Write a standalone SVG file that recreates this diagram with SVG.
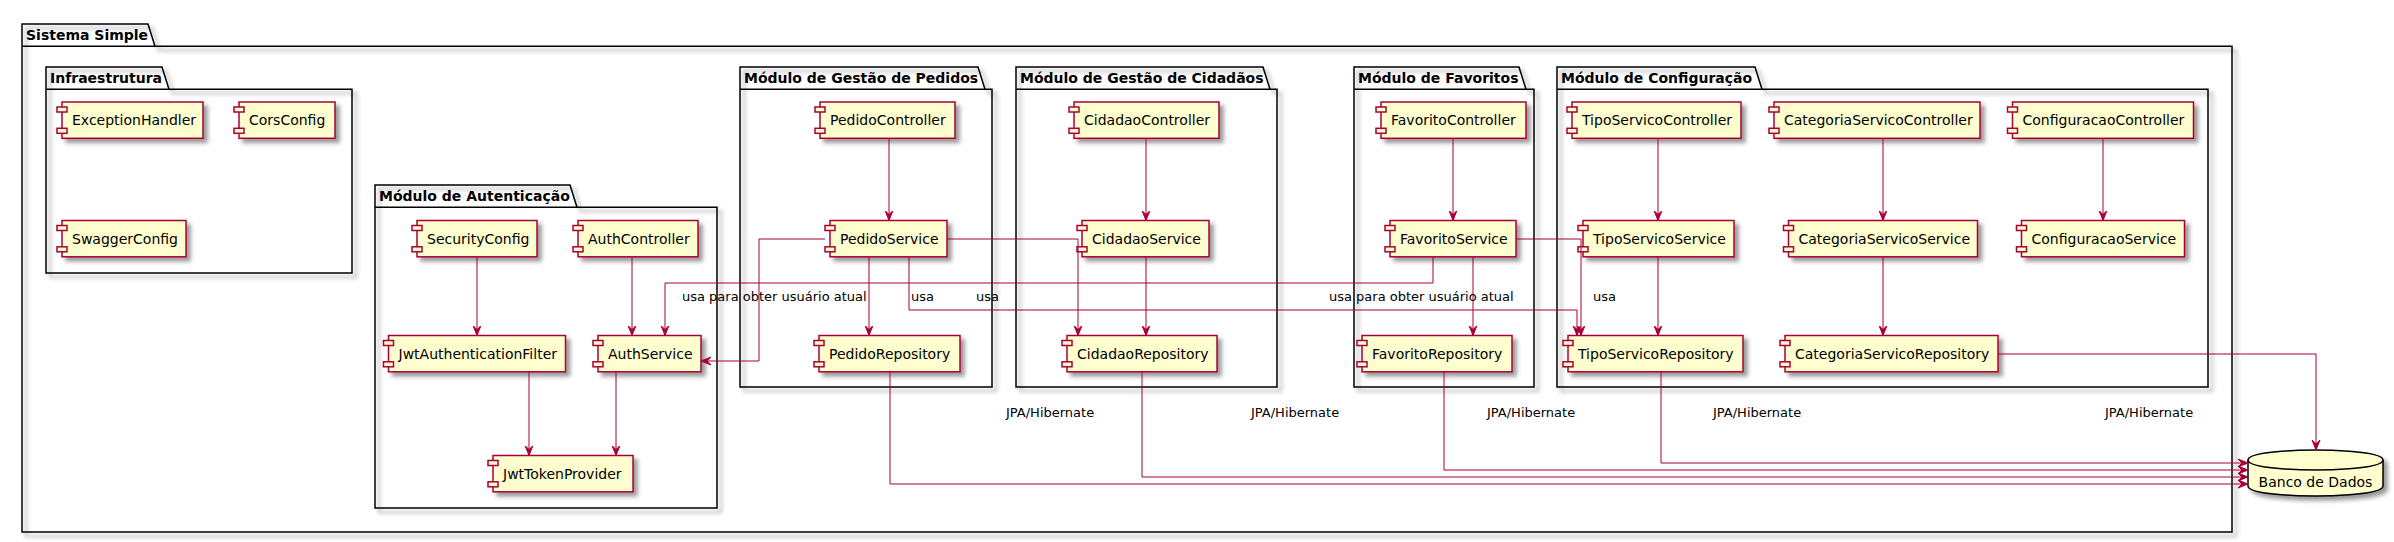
<svg xmlns="http://www.w3.org/2000/svg" width="2394" height="542" viewBox="0 0 2394 542">
<style>
.pkg{fill:none;stroke:#000000;stroke-width:1.5}
.pkl{stroke:#000000;stroke-width:1.5}
.pt{font-family:"DejaVu Sans",Verdana,sans-serif;font-size:14px;font-weight:bold;fill:#000000}
.cb{fill:#FEFECE;stroke:#A80036;stroke-width:1.5}
.ct{font-family:"DejaVu Sans",Verdana,sans-serif;font-size:14px;fill:#000000}
.e{fill:none;stroke:#A80036;stroke-width:1;marker-end:url(#ah)}
.el{font-family:"DejaVu Sans",Verdana,sans-serif;font-size:13px;fill:#000000}
.db{fill:#FEFECE;stroke:#000000;stroke-width:1.5}
</style>
<defs>
<filter id="sh" x="-1" y="-1" width="300%" height="300%">
<feGaussianBlur result="b1" stdDeviation="2"/>
<feColorMatrix in="b1" result="b2" type="matrix" values="0 0 0 0 0 0 0 0 0 0 0 0 0 0 0 0 0 0 .4 0"/>
<feOffset dx="4" dy="4" in="b2" result="b3"/>
<feBlend in="SourceGraphic" in2="b3" mode="normal"/>
</filter>
<marker id="ah" viewBox="0 0 10 10" refX="10" refY="5" markerWidth="10" markerHeight="10" markerUnits="userSpaceOnUse" orient="auto">
<path d="M0,1 L10,5 L0,9 L4,5 Z" fill="#A80036" stroke="#A80036" stroke-width="1"/>
</marker>
</defs>
<rect width="2394" height="542" fill="#FFFFFF"/>

<g id="pkg-sistema">
<polygon class="pkg" filter="url(#sh)" points="22,24 148,24 155,46.3 2232,46.3 2232,532 22,532 22,24"/>
<line class="pkl" x1="22" y1="46.3" x2="155" y2="46.3"/>
<text class="pt" x="26" y="39.5">Sistema Simple</text>
</g>
<g id="pkg-infra">
<polygon class="pkg" filter="url(#sh)" points="46,67 162,67 169,89.3 352,89.3 352,273 46,273 46,67"/>
<line class="pkl" x1="46" y1="89.3" x2="169" y2="89.3"/>
<text class="pt" x="50" y="82.5">Infraestrutura</text>
</g>
<g id="pkg-auth">
<polygon class="pkg" filter="url(#sh)" points="375,185 570,185 577,207.3 717,207.3 717,508 375,508 375,185"/>
<line class="pkl" x1="375" y1="207.3" x2="577" y2="207.3"/>
<text class="pt" x="379" y="200.5">Módulo de Autenticação</text>
</g>
<g id="pkg-pedidos">
<polygon class="pkg" filter="url(#sh)" points="740,67 978,67 985,89.3 992,89.3 992,387 740,387 740,67"/>
<line class="pkl" x1="740" y1="89.3" x2="985" y2="89.3"/>
<text class="pt" x="744" y="82.5">Módulo de Gestão de Pedidos</text>
</g>
<g id="pkg-cidadaos">
<polygon class="pkg" filter="url(#sh)" points="1016,67 1263,67 1270,89.3 1277,89.3 1277,387 1016,387 1016,67"/>
<line class="pkl" x1="1016" y1="89.3" x2="1270" y2="89.3"/>
<text class="pt" x="1020" y="82.5">Módulo de Gestão de Cidadãos</text>
</g>
<g id="pkg-favoritos">
<polygon class="pkg" filter="url(#sh)" points="1354,67 1519,67 1526,89.3 1534,89.3 1534,387 1354,387 1354,67"/>
<line class="pkl" x1="1354" y1="89.3" x2="1526" y2="89.3"/>
<text class="pt" x="1358" y="82.5">Módulo de Favoritos</text>
</g>
<g id="pkg-config">
<polygon class="pkg" filter="url(#sh)" points="1557,67 1755,67 1762,89.3 2208,89.3 2208,387 1557,387 1557,67"/>
<line class="pkl" x1="1557" y1="89.3" x2="1762" y2="89.3"/>
<text class="pt" x="1561" y="82.5">Módulo de Configuração</text>
</g>

<g id="ExceptionHandler"><rect class="cb" filter="url(#sh)" x="62" y="102" width="141" height="36.3"/><rect class="cb" x="57" y="107" width="10" height="5"/><rect class="cb" x="57" y="128.3" width="10" height="5"/><text class="ct" x="72" y="125">ExceptionHandler</text></g>
<g id="CorsConfig"><rect class="cb" filter="url(#sh)" x="239" y="102" width="96" height="36.3"/><rect class="cb" x="234" y="107" width="10" height="5"/><rect class="cb" x="234" y="128.3" width="10" height="5"/><text class="ct" x="249" y="125">CorsConfig</text></g>
<g id="SwaggerConfig"><rect class="cb" filter="url(#sh)" x="62" y="220.5" width="124" height="36.3"/><rect class="cb" x="57" y="225.5" width="10" height="5"/><rect class="cb" x="57" y="246.8" width="10" height="5"/><text class="ct" x="72" y="243.5">SwaggerConfig</text></g>

<g id="SecurityConfig"><rect class="cb" filter="url(#sh)" x="417" y="220.5" width="120" height="36.3"/><rect class="cb" x="412" y="225.5" width="10" height="5"/><rect class="cb" x="412" y="246.8" width="10" height="5"/><text class="ct" x="427" y="243.5">SecurityConfig</text></g>
<g id="AuthController"><rect class="cb" filter="url(#sh)" x="578" y="220.5" width="120" height="36.3"/><rect class="cb" x="573" y="225.5" width="10" height="5"/><rect class="cb" x="573" y="246.8" width="10" height="5"/><text class="ct" x="588" y="243.5">AuthController</text></g>
<g id="JwtAuthenticationFilter"><rect class="cb" filter="url(#sh)" x="388.5" y="335.5" width="177" height="36.3"/><rect class="cb" x="383.5" y="340.5" width="10" height="5"/><rect class="cb" x="383.5" y="361.8" width="10" height="5"/><text class="ct" x="398.5" y="358.5">JwtAuthenticationFilter</text></g>
<g id="AuthService"><rect class="cb" filter="url(#sh)" x="598" y="335.5" width="103" height="36.3"/><rect class="cb" x="593" y="340.5" width="10" height="5"/><rect class="cb" x="593" y="361.8" width="10" height="5"/><text class="ct" x="608" y="358.5">AuthService</text></g>
<g id="JwtTokenProvider"><rect class="cb" filter="url(#sh)" x="493" y="455.5" width="140" height="36.3"/><rect class="cb" x="488" y="460.5" width="10" height="5"/><rect class="cb" x="488" y="481.8" width="10" height="5"/><text class="ct" x="503" y="478.5">JwtTokenProvider</text></g>

<g id="PedidoController"><rect class="cb" filter="url(#sh)" x="820" y="102" width="135" height="36.3"/><rect class="cb" x="815" y="107" width="10" height="5"/><rect class="cb" x="815" y="128.3" width="10" height="5"/><text class="ct" x="830" y="125">PedidoController</text></g>
<g id="PedidoService"><rect class="cb" filter="url(#sh)" x="830" y="220.5" width="117" height="36.3"/><rect class="cb" x="825" y="225.5" width="10" height="5"/><rect class="cb" x="825" y="246.8" width="10" height="5"/><text class="ct" x="840" y="243.5">PedidoService</text></g>
<g id="PedidoRepository"><rect class="cb" filter="url(#sh)" x="819" y="335.5" width="141" height="36.3"/><rect class="cb" x="814" y="340.5" width="10" height="5"/><rect class="cb" x="814" y="361.8" width="10" height="5"/><text class="ct" x="829" y="358.5">PedidoRepository</text></g>

<g id="CidadaoController"><rect class="cb" filter="url(#sh)" x="1074" y="102" width="145" height="36.3"/><rect class="cb" x="1069" y="107" width="10" height="5"/><rect class="cb" x="1069" y="128.3" width="10" height="5"/><text class="ct" x="1084" y="125">CidadaoController</text></g>
<g id="CidadaoService"><rect class="cb" filter="url(#sh)" x="1082" y="220.5" width="127" height="36.3"/><rect class="cb" x="1077" y="225.5" width="10" height="5"/><rect class="cb" x="1077" y="246.8" width="10" height="5"/><text class="ct" x="1092" y="243.5">CidadaoService</text></g>
<g id="CidadaoRepository"><rect class="cb" filter="url(#sh)" x="1067" y="335.5" width="150" height="36.3"/><rect class="cb" x="1062" y="340.5" width="10" height="5"/><rect class="cb" x="1062" y="361.8" width="10" height="5"/><text class="ct" x="1077" y="358.5">CidadaoRepository</text></g>

<g id="FavoritoController"><rect class="cb" filter="url(#sh)" x="1381" y="102" width="145" height="36.3"/><rect class="cb" x="1376" y="107" width="10" height="5"/><rect class="cb" x="1376" y="128.3" width="10" height="5"/><text class="ct" x="1391" y="125">FavoritoController</text></g>
<g id="FavoritoService"><rect class="cb" filter="url(#sh)" x="1390" y="220.5" width="126" height="36.3"/><rect class="cb" x="1385" y="225.5" width="10" height="5"/><rect class="cb" x="1385" y="246.8" width="10" height="5"/><text class="ct" x="1400" y="243.5">FavoritoService</text></g>
<g id="FavoritoRepository"><rect class="cb" filter="url(#sh)" x="1362" y="335.5" width="150" height="36.3"/><rect class="cb" x="1357" y="340.5" width="10" height="5"/><rect class="cb" x="1357" y="361.8" width="10" height="5"/><text class="ct" x="1372" y="358.5">FavoritoRepository</text></g>

<g id="TipoServicoController"><rect class="cb" filter="url(#sh)" x="1572" y="102" width="169" height="36.3"/><rect class="cb" x="1567" y="107" width="10" height="5"/><rect class="cb" x="1567" y="128.3" width="10" height="5"/><text class="ct" x="1582" y="125">TipoServicoController</text></g>
<g id="CategoriaServicoController"><rect class="cb" filter="url(#sh)" x="1774" y="102" width="206" height="36.3"/><rect class="cb" x="1769" y="107" width="10" height="5"/><rect class="cb" x="1769" y="128.3" width="10" height="5"/><text class="ct" x="1784" y="125">CategoriaServicoController</text></g>
<g id="ConfiguracaoController"><rect class="cb" filter="url(#sh)" x="2012.5" y="102" width="181" height="36.3"/><rect class="cb" x="2007.5" y="107" width="10" height="5"/><rect class="cb" x="2007.5" y="128.3" width="10" height="5"/><text class="ct" x="2022.5" y="125">ConfiguracaoController</text></g>
<g id="TipoServicoService"><rect class="cb" filter="url(#sh)" x="1583" y="220.5" width="151" height="36.3"/><rect class="cb" x="1578" y="225.5" width="10" height="5"/><rect class="cb" x="1578" y="246.8" width="10" height="5"/><text class="ct" x="1593" y="243.5">TipoServicoService</text></g>
<g id="CategoriaServicoService"><rect class="cb" filter="url(#sh)" x="1788.5" y="220.5" width="189" height="36.3"/><rect class="cb" x="1783.5" y="225.5" width="10" height="5"/><rect class="cb" x="1783.5" y="246.8" width="10" height="5"/><text class="ct" x="1798.5" y="243.5">CategoriaServicoService</text></g>
<g id="ConfiguracaoService"><rect class="cb" filter="url(#sh)" x="2021.5" y="220.5" width="163" height="36.3"/><rect class="cb" x="2016.5" y="225.5" width="10" height="5"/><rect class="cb" x="2016.5" y="246.8" width="10" height="5"/><text class="ct" x="2031.5" y="243.5">ConfiguracaoService</text></g>
<g id="TipoServicoRepository"><rect class="cb" filter="url(#sh)" x="1568" y="335.5" width="175" height="36.3"/><rect class="cb" x="1563" y="340.5" width="10" height="5"/><rect class="cb" x="1563" y="361.8" width="10" height="5"/><text class="ct" x="1578" y="358.5">TipoServicoRepository</text></g>
<g id="CategoriaServicoRepository"><rect class="cb" filter="url(#sh)" x="1785" y="335.5" width="213" height="36.3"/><rect class="cb" x="1780" y="340.5" width="10" height="5"/><rect class="cb" x="1780" y="361.8" width="10" height="5"/><text class="ct" x="1795" y="358.5">CategoriaServicoRepository</text></g>

<g id="BancoDeDados">
<path class="db" filter="url(#sh)" d="M2248,460 C2248,450 2315.5,450 2315.5,450 C2315.5,450 2383,450 2383,460 L2383,486 C2383,496 2315.5,496 2315.5,496 C2315.5,496 2248,496 2248,486 Z"/>
<path d="M2248,460 C2248,470 2315.5,470 2315.5,470 C2315.5,470 2383,470 2383,460" fill="none" stroke="#000000" stroke-width="1.5"/>
<text class="ct" x="2315.5" y="487" text-anchor="middle">Banco de Dados</text>
</g>

<g id="connectors">
<path class="e" d="M477,256.8 V335.5"/>
<path class="e" d="M632,256.8 V335.5"/>
<path class="e" d="M529,371.8 V455.5"/>
<path class="e" d="M616,371.8 V455.5"/>
<path class="e" d="M889,138.3 V220.5"/>
<path class="e" d="M869,256.8 V335.5"/>
<path class="e" d="M825,239 H759 V361 H701"/>
<path class="e" d="M947,239 H1078 V335.5"/>
<path class="e" d="M909,256.8 V310 H1577 V335.5"/>
<path class="e" d="M1146,138.3 V220.5"/>
<path class="e" d="M1146,256.8 V335.5"/>
<path class="e" d="M1453,138.3 V220.5"/>
<path class="e" d="M1473,256.8 V335.5"/>
<path class="e" d="M1433,256.8 V283 H665 V335.5"/>
<path class="e" d="M1516,239 H1581 V335.5"/>
<path class="e" d="M1658,138.3 V220.5"/>
<path class="e" d="M1658,256.8 V335.5"/>
<path class="e" d="M1883,138.3 V220.5"/>
<path class="e" d="M1883,256.8 V335.5"/>
<path class="e" d="M2103,138.3 V220.5"/>
<path class="e" d="M890,371.8 V484 H2248"/>
<path class="e" d="M1142,371.8 V477 H2248"/>
<path class="e" d="M1444,371.8 V470 H2248"/>
<path class="e" d="M1661,371.8 V463 H2248"/>
<path class="e" d="M1998,354 H2316 V450"/>
<text class="el" x="682" y="301">usa para obter usuário atual</text>
<text class="el" x="911" y="301">usa</text>
<text class="el" x="976" y="301">usa</text>
<text class="el" x="1329" y="301">usa para obter usuário atual</text>
<text class="el" x="1593" y="301">usa</text>
<text class="el" x="1006" y="417">JPA/Hibernate</text>
<text class="el" x="1251" y="417">JPA/Hibernate</text>
<text class="el" x="1487" y="417">JPA/Hibernate</text>
<text class="el" x="1713" y="417">JPA/Hibernate</text>
<text class="el" x="2105" y="417">JPA/Hibernate</text>
</g>
</svg>
